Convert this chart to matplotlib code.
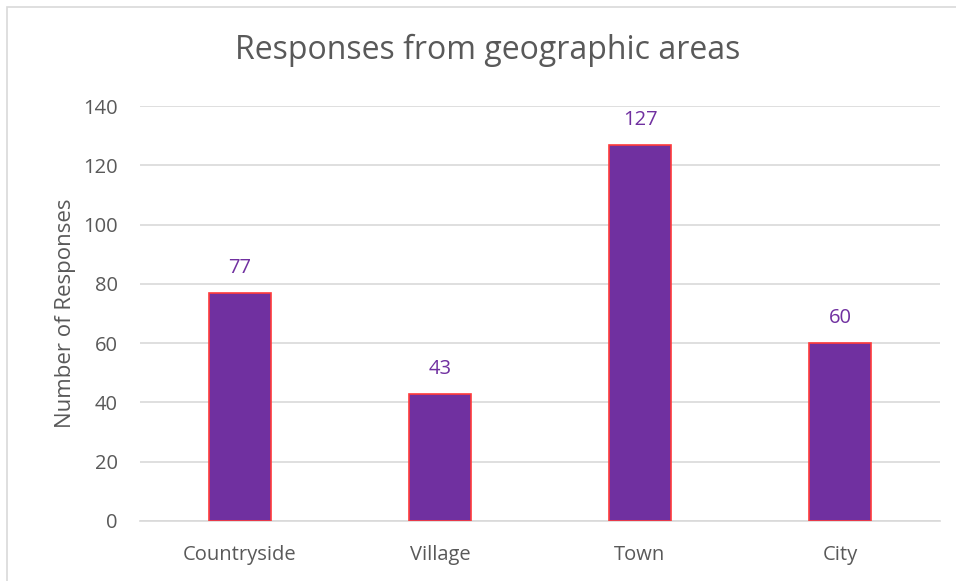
import matplotlib.pyplot as plt
from matplotlib.patches import Rectangle
import numpy as np

areas = ["Countryside", "Village", "Town", "City"]
responses = [77, 43, 127, 60]
y_ticks = [0, 20, 40, 60, 80, 100, 120, 140]

text_grey = "#595959"
bar_purple = "#7030A0"

plt.rcParams["font.family"] = ["Open Sans", "DejaVu Sans"]

fig = plt.figure(figsize=(9.56, 5.81), dpi=100)
ax = fig.add_axes([140 / 956, 1 - 521 / 581, 800 / 956, 415 / 581])

# outer chart frame, cut off on the right and bottom
fig.patches.append(Rectangle((7 / 956, -0.1), 1.2, 1 - 7 / 581 + 0.1,
                             transform=fig.transFigure, fill=False,
                             edgecolor="#d9d9d9", linewidth=1.2))

x = np.arange(len(areas))
bars = ax.bar(x, responses, width=0.31, color=bar_purple,
              edgecolor="#ff3b3b", linewidth=1.2, zorder=3)

for xi, v in zip(x, responses):
    ax.annotate(str(v), (xi, v), xytext=(0, 18), textcoords="offset points",
                ha="center", va="center", color=bar_purple, fontsize=14.5)

ax.set_xlim(-0.5, len(areas) - 0.5)
ax.set_ylim(0, 140)
ax.set_yticks(y_ticks)
ax.set_xticks(x)
ax.set_xticklabels(areas)
ax.grid(axis="y", color="#d9d9d9", linewidth=1.2, zorder=0)
for side in ["top", "right", "left"]:
    ax.spines[side].set_visible(False)
ax.spines["bottom"].set_color("#d9d9d9")
ax.spines["bottom"].set_linewidth(1.2)
ax.tick_params(length=0, colors=text_grey, labelsize=14.5)
ax.tick_params(axis="x", pad=17)
ax.tick_params(axis="y", pad=16)

ax.set_ylabel("Number of Responses", color=text_grey, fontsize=16, labelpad=5)
fig.text(488 / 956, 1 - 50 / 581, "Responses from geographic areas",
         ha="center", va="center", color=text_grey, fontsize=23)

fig.savefig("out.png", dpi=100, facecolor="white")
